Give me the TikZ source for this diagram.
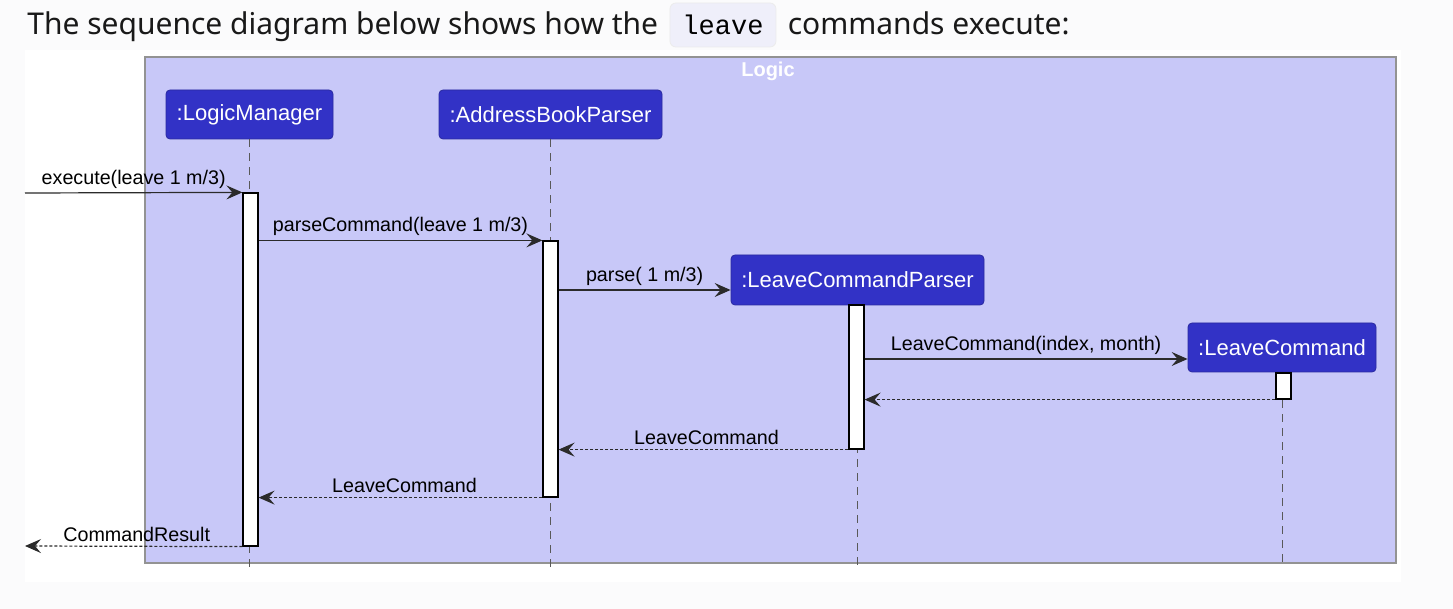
\documentclass[tikz,border=0pt]{standalone}
\usepackage{fontspec}
\setmainfont{Liberation Sans}
\newfontfamily\titlefont{Noto Sans}
\setmonofont{Liberation Mono}
\usepackage{tikz}
\usetikzlibrary{positioning, arrows.meta, backgrounds}
\definecolor{pagebg}{HTML}{FBFBFC}
\definecolor{codebg}{HTML}{EFEFFA}
\definecolor{logicbg}{HTML}{C8C8F8}
\definecolor{partbg}{HTML}{3232C6}
\definecolor{partline}{HTML}{2A2AA0}
\definecolor{msgline}{HTML}{2B2B2B}

\begin{document}
\begin{tikzpicture}[
    x=0.5pt, y=-0.5pt,
    font=\fontsize{9.85}{12}\selectfont,
    part/.style={draw=partline, fill=partbg, rounded corners=2pt, text=white, inner sep=0pt, font=\fontsize{11}{13}\selectfont},
    act/.style={draw=black, fill=white, inner sep=0pt, minimum width=7.5pt, line width=0.6pt},
    life/.style={gray!70!black, dash pattern=on 4pt off 3pt, line width=0.5pt},
    msg/.style={draw=msgline, line width=0.6pt, -{Stealth[length=8pt, width=7pt, inset=3pt]}},
    ret/.style={msg, dash pattern=on 1.5pt off 1pt},
    lbl/.style={midway, above, inner sep=2pt, text=black},
    title/.style={font=\titlefont\fontsize{15}{18}\selectfont, inner sep=0pt, text=black!90}
]
\useasboundingbox[fill=pagebg] (0,0) rectangle (1453,609);
\fill[white] (25,50) rectangle (1401,582);

% --- Heading line ---
\node[title, anchor=base west] (t1) at (27,35) {The sequence diagram below shows how the};
\node[draw=gray!15, fill=codebg, rounded corners=3pt, inner xsep=6.25pt, inner ysep=0pt, text height=16pt, text depth=6pt,
      font=\ttfamily\fontsize{13.5}{16}\selectfont, right=5.5pt of t1.base east, anchor=base west] (code) {leave};
\node[title, right=5.5pt of code.base east, anchor=base west] (t2) {commands execute:};

% --- Logic group ---
\node[draw=gray!85, fill=logicbg, line width=0.7pt, inner sep=0pt, minimum width=625.5pt, minimum height=253pt] (logic) at (770.5,310) {};
\node[text=white, font=\bfseries\fontsize{10}{12}\selectfont] (logictitle) at (768,71) {Logic};

% --- Participants ---
\node[part, minimum width=83.5pt, minimum height=24.5pt] (pLM) at (249.5,114.5) {:LogicManager};
\node[part, minimum width=111.5pt, minimum height=24.5pt] (pABP) at (550.5,114.5) {:AddressBookParser};
\node[part, minimum width=126.5pt, minimum height=25pt] (pLCP) at (857.5,280) {:LeaveCommandParser};
\node[part, minimum width=94pt, minimum height=24.5pt] (pLC) at (1282,347.5) {:LeaveCommand};

% --- Lifelines ---
\coordinate (bottom) at (0,568);
\draw[life] (pLM.south) -- (pLM.south |- bottom);
\draw[life] (pABP.south) -- (pABP.south |- bottom);
\draw[life] (pLCP.south) -- (pLCP.south |- bottom);
\draw[life] (pLC.south) -- (pLC.south |- bottom);

% --- Activations ---
\node[act, minimum height=176.5pt] (aLM) at (250.5,369.5) {};
\node[act, minimum height=128pt] (aABP) at (550.5,369) {};
\node[act, minimum height=72pt] (aLCP) at (856.5,377) {};
\node[act, minimum height=13pt] (aLC) at (1283.5,386) {};

% --- Calls ---
\coordinate (in) at (25,193);
\coordinate (out) at (25,546);
\coordinate (toLCP) at ([yshift=-5pt]pLCP.west);
\coordinate (toLC) at ([yshift=-5.75pt]pLC.west);
\draw[msg] (in) -- node[lbl]{execute(leave 1 m/3)} (aLM.north west);
\draw[msg] (aLM.east |- aABP.north) -- node[lbl]{parseCommand(leave 1 m/3)} (aABP.north west);
\draw[msg] (aABP.east |- toLCP) -- node[lbl]{parse( 1 m/3)} (toLCP);
\draw[msg] (aLCP.east |- toLC) -- node[lbl]{LeaveCommand(index, month)} (toLC);

% --- Returns ---
\draw[ret] (aLC.south west) -- (aLCP.east |- aLC.south);
\draw[ret] (aLCP.south west) -- node[lbl, xshift=1.5pt]{LeaveCommand} (aABP.east |- aLCP.south);
\draw[ret] (aABP.south west) -- node[lbl, xshift=2pt]{LeaveCommand} (aLM.east |- aABP.south);
\draw[ret] (aLM.south west) -- node[lbl, xshift=1.5pt]{CommandResult} (out);

\end{tikzpicture}
\end{document}
